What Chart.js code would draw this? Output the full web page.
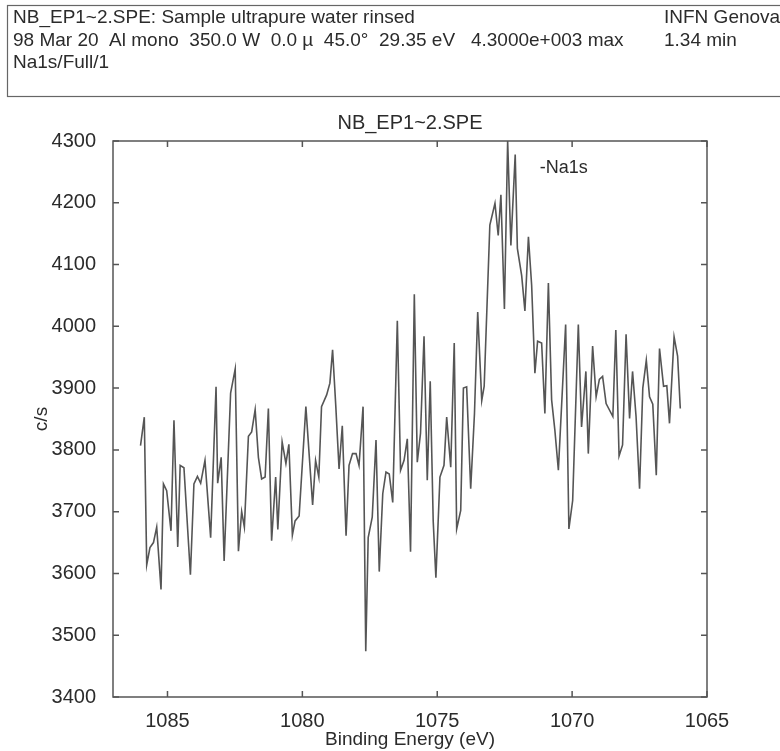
<!DOCTYPE html>
<html>
<head>
<meta charset="utf-8">
<script src="https://cdn.jsdelivr.net/npm/chart.js@4.4.1/dist/chart.umd.min.js"></script>
<style>
  html, body { margin: 0; padding: 0; background: #fff; }
  #wrap { position: relative; width: 780px; height: 751px; }
</style>
</head>
<body>
<div id="wrap"><canvas id="chart" width="780" height="751"></canvas></div>
<script>
// Na1s region, binding energy (eV) vs counts (c/s)
const energy = [
  1086.00, 1085.86, 1085.77, 1085.65, 1085.52, 1085.40, 1085.24, 1085.15, 1085.03, 1084.87,
  1084.76, 1084.62, 1084.53, 1084.39, 1084.15, 1084.02, 1083.89, 1083.77, 1083.61, 1083.40,
  1083.20, 1083.14, 1083.01, 1082.90, 1082.66, 1082.49, 1082.37, 1082.25, 1082.15, 1082.00,
  1081.88, 1081.75, 1081.63, 1081.51, 1081.38, 1081.26, 1081.14, 1080.99, 1080.91, 1080.75,
  1080.61, 1080.50, 1080.37, 1080.27, 1080.12, 1079.87, 1079.62, 1079.51, 1079.39, 1079.29,
  1079.10, 1078.98, 1078.88, 1078.76, 1078.64, 1078.52, 1078.38, 1078.27, 1078.14, 1078.01,
  1077.90, 1077.75, 1077.65, 1077.56, 1077.41, 1077.27, 1077.15, 1077.02, 1076.90, 1076.78,
  1076.65, 1076.48, 1076.36, 1076.23, 1076.11, 1075.99, 1075.85, 1075.74, 1075.62, 1075.49,
  1075.37, 1075.26, 1075.15, 1075.05, 1074.90, 1074.75, 1074.65, 1074.50, 1074.37, 1074.28,
  1074.13, 1074.03, 1073.91, 1073.76, 1073.62, 1073.50, 1073.35, 1073.26, 1073.05, 1072.86,
  1072.74, 1072.64, 1072.51, 1072.39, 1072.27, 1072.11, 1072.03, 1071.87, 1071.75, 1071.62,
  1071.50, 1071.38, 1071.28, 1071.13, 1071.01, 1070.88, 1070.76, 1070.64, 1070.51, 1070.24,
  1070.12, 1069.98, 1069.77, 1069.65, 1069.49, 1069.40, 1069.24, 1069.11, 1068.99, 1068.87,
  1068.74, 1068.49, 1068.38, 1068.26, 1068.13, 1068.00, 1067.87, 1067.76, 1067.63, 1067.50,
  1067.38, 1067.25, 1067.13, 1067.01, 1066.88, 1066.76, 1066.61, 1066.49, 1066.39, 1066.22,
  1066.09, 1065.99
];
const counts = [
  3807, 3853, 3614, 3642, 3650, 3675, 3574, 3745, 3734, 3669,
  3848, 3643, 3775, 3771, 3598, 3745, 3757, 3746, 3783, 3658,
  3902, 3746, 3788, 3620, 3892, 3931, 3636, 3700, 3675, 3822,
  3829, 3865, 3788, 3753, 3756, 3867, 3653, 3756, 3671, 3813,
  3778, 3809, 3662, 3685, 3693, 3870, 3711, 3783, 3756, 3870,
  3889, 3908, 3962, 3870, 3769, 3839, 3661, 3775, 3794, 3794,
  3775, 3870, 3474, 3658, 3691, 3816, 3603, 3729, 3764, 3761,
  3715, 4009, 3767, 3783, 3818, 3635, 4052, 3780, 3827, 3984,
  3751, 3911, 3685, 3593, 3756, 3775, 3853, 3772, 3973, 3672,
  3702, 3900, 3902, 3737, 3859, 4023, 3880, 3903, 4164, 4199,
  4147, 4213, 4028, 4300, 4131, 4278, 4126, 4082, 4025, 4145,
  4066, 3924, 3976, 3973, 3859, 4070, 3881, 3832, 3767, 4003,
  3672, 3718, 4003, 3837, 3927, 3794, 3968, 3886, 3914, 3919,
  3875, 3854, 3994, 3790, 3808, 3987, 3851, 3927, 3854, 3737,
  3900, 3945, 3886, 3874, 3759, 3964, 3903, 3904, 3843, 3983,
  3952, 3867
];

const xTicks = [1085, 1080, 1075, 1070, 1065];
const yTicks = [3400, 3500, 3600, 3700, 3800, 3900, 4000, 4100, 4200, 4300];

const headerLeft = [
  'NB_EP1~2.SPE: Sample ultrapure water rinsed',
  '98 Mar 20  Al mono  350.0 W  0.0 \u00b5  45.0\u00b0  29.35 eV   4.3000e+003 max',
  'Na1s/Full/1'
];
const headerRight = ['INFN Genova', '1.34 min'];
const plotTitle = 'NB_EP1~2.SPE';
const peakLabel = { text: '-Na1s', x: 1071.2, y: 4256 };

const FONT = '"Liberation Sans", Arial, sans-serif';
const INK = '#2b2b2b';
const LINE = '#555';

// frame, inward ticks on all four sides, header box and labels
const decorations = {
  id: 'decorations',
  afterDraw(chart) {
    const { ctx, chartArea: a, scales: { x, y } } = chart;
    ctx.save();

    ctx.strokeStyle = LINE;
    ctx.lineWidth = 1.5;
    ctx.strokeRect(a.left, a.top, a.right - a.left, a.bottom - a.top);

    const tl = 6;
    ctx.beginPath();
    xTicks.forEach(v => {
      const px = x.getPixelForValue(v);
      ctx.moveTo(px, a.bottom); ctx.lineTo(px, a.bottom - tl);
      ctx.moveTo(px, a.top); ctx.lineTo(px, a.top + tl);
    });
    yTicks.forEach(v => {
      const py = y.getPixelForValue(v);
      ctx.moveTo(a.left, py); ctx.lineTo(a.left + tl, py);
      ctx.moveTo(a.right, py); ctx.lineTo(a.right - tl, py);
    });
    ctx.stroke();

    // header box, right edge runs off the picture
    ctx.lineWidth = 1.2;
    ctx.strokeStyle = '#666';
    ctx.strokeRect(7.5, 5.5, 780, 91);
    ctx.fillStyle = INK;
    ctx.font = '19px ' + FONT;
    ctx.textBaseline = 'middle';
    ctx.textAlign = 'left';
    headerLeft.forEach((t, i) => ctx.fillText(t, 13, 18 + i * 22.5));
    headerRight.forEach((t, i) => ctx.fillText(t, 664, 18 + i * 22.5));

    // plot title
    ctx.font = '20px ' + FONT;
    ctx.textAlign = 'center';
    ctx.fillText(plotTitle, (a.left + a.right) / 2, 123);

    // peak label
    ctx.font = '18px ' + FONT;
    ctx.textAlign = 'left';
    ctx.fillText(peakLabel.text, x.getPixelForValue(peakLabel.x), y.getPixelForValue(peakLabel.y));

    ctx.restore();
  }
};

new Chart(document.getElementById('chart'), {
  type: 'line',
  data: {
    datasets: [{
      data: energy.map((e, i) => ({ x: e, y: counts[i] })),
      borderColor: LINE,
      borderWidth: 1.6,
      pointRadius: 0,
      tension: 0,
      fill: false
    }]
  },
  options: {
    responsive: false,
    animation: false,
    devicePixelRatio: 1,
    layout: { padding: { left: 0, right: 73, top: 141, bottom: 0 } },
    plugins: {
      legend: { display: false },
      tooltip: { enabled: false },
      title: { display: false }
    },
    scales: {
      x: {
        type: 'linear',
        reverse: true,
        min: 1065,
        max: 1087.02,
        afterBuildTicks: s => { s.ticks = xTicks.map(v => ({ value: v })); },
        afterFit: s => { s.height = 54; },
        grid: { display: false },
        border: { display: false },
        ticks: {
          color: INK,
          font: { family: FONT, size: 20 },
          padding: 4,
          maxRotation: 0,
          callback: v => String(v)
        },
        title: {
          display: true,
          text: 'Binding Energy (eV)',
          color: INK,
          font: { family: FONT, size: 19 },
          padding: { top: 0, bottom: 0 }
        }
      },
      y: {
        min: 3400,
        max: 4300,
        afterBuildTicks: s => { s.ticks = yTicks.map(v => ({ value: v })); },
        afterFit: s => { s.width = 113; },
        grid: { display: false },
        border: { display: false },
        ticks: {
          color: INK,
          font: { family: FONT, size: 20 },
          padding: 9,
          callback: v => String(v)
        },
        title: {
          display: true,
          text: 'c/s',
          color: INK,
          font: { family: FONT, size: 19 },
          padding: { top: 30, bottom: 0 }
        }
      }
    }
  },
  plugins: [decorations]
});
</script>
</body>
</html>
